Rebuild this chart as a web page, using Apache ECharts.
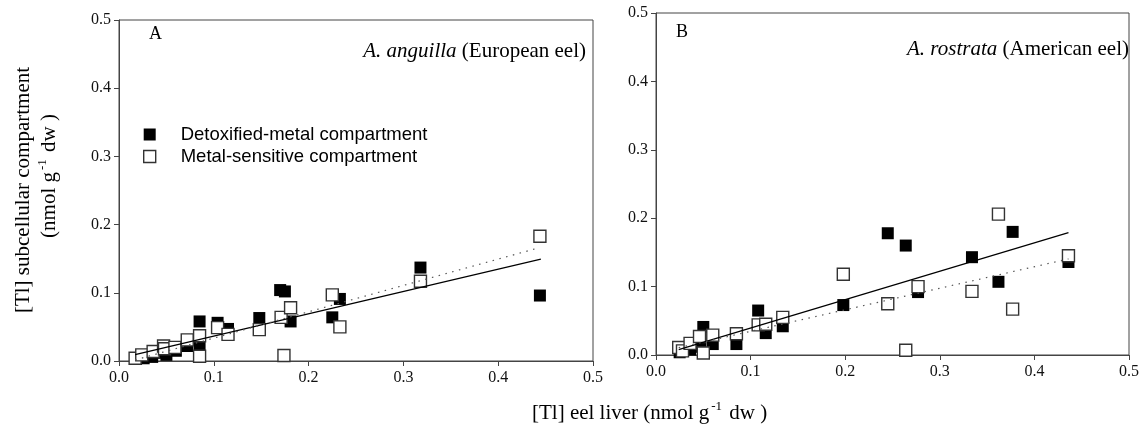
<!DOCTYPE html>
<html>
<head>
<meta charset="utf-8">
<script src="https://cdn.jsdelivr.net/npm/echarts@6/dist/echarts.min.js"></script>
<style>
  html, body { margin: 0; padding: 0; background: #fff; }
  #chart { width: 1142px; height: 425px; }
</style>
</head>
<body>
<div id="chart"></div>
<script>
// Compartment names (legend entries)
const seriesNames = ['Detoxified-metal compartment', 'Metal-sensitive compartment'];

// Shared axis ticks (both axes, both panels)
const tickValues = [0.0, 0.1, 0.2, 0.3, 0.4, 0.5];
const tickLabels = ['0.0', '0.1', '0.2', '0.3', '0.4', '0.5'];

// Panel A – A. anguilla: [liver Tl, compartment Tl]
const detoxA = [[0.018,0.003],[0.026,0.004],[0.035,0.006],[0.047,0.012],[0.050,0.009],[0.060,0.015],[0.072,0.022],[0.085,0.022],[0.085,0.058],[0.104,0.056],[0.115,0.047],[0.148,0.063],[0.170,0.104],[0.175,0.102],[0.181,0.058],[0.225,0.064],[0.233,0.091],[0.318,0.137],[0.444,0.096]];
const sensA  = [[0.017,0.004],[0.024,0.009],[0.036,0.014],[0.047,0.022],[0.048,0.018],[0.059,0.020],[0.072,0.031],[0.085,0.037],[0.085,0.007],[0.104,0.049],[0.115,0.039],[0.148,0.046],[0.171,0.064],[0.174,0.008],[0.181,0.078],[0.225,0.097],[0.233,0.050],[0.318,0.117],[0.444,0.183]];

// Panel B – A. rostrata
const detoxB = [[0.025,0.004],[0.028,0.008],[0.036,0.008],[0.047,0.012],[0.050,0.041],[0.060,0.016],[0.085,0.016],[0.108,0.065],[0.116,0.032],[0.134,0.042],[0.198,0.073],[0.245,0.178],[0.264,0.160],[0.277,0.092],[0.334,0.143],[0.362,0.107],[0.377,0.180],[0.436,0.136]];
const sensB  = [[0.024,0.011],[0.028,0.006],[0.036,0.017],[0.046,0.027],[0.050,0.003],[0.060,0.029],[0.085,0.031],[0.108,0.044],[0.116,0.045],[0.134,0.055],[0.198,0.118],[0.245,0.075],[0.264,0.007],[0.277,0.100],[0.334,0.093],[0.362,0.206],[0.377,0.067],[0.436,0.145]];

// Linear regressions: [intercept, slope] and fitted x-range
const fitDetoxA = [0.0038, 0.327];  const rangeDetoxA = [0.017, 0.445];
const fitSensA  = [-0.005, 0.386];  const rangeSensA  = [0.017, 0.440];
const fitDetoxB = [-0.002, 0.415];  const rangeDetoxB = [0.024, 0.436];
const fitSensB  = [0.0031, 0.315];  const rangeSensB  = [0.024, 0.436];

const serif = '"Liberation Serif", "Times New Roman", serif';
const sans = '"Liberation Sans", Arial, sans-serif';
const axisColor = '#444';

function fitLine(fit, range) {
  return range.map(x => [x, fit[0] + fit[1] * x]);
}

function makeAxis(gridIndex, isX) {
  return {
    type: 'value', gridIndex: gridIndex,
    min: 0, max: 0.5, interval: 0.1,
    axisLine: { show: true, onZero: false, lineStyle: { color: axisColor, width: 1 } },
    axisTick: { show: true, inside: false, length: 5, lineStyle: { color: axisColor } },
    splitLine: { show: false },
    axisLabel: {
      margin: isX ? 9 : 8,
      fontFamily: serif, fontSize: 16, color: '#111',
      formatter: v => tickLabels[tickValues.findIndex(t => Math.abs(t - v) < 1e-9)] ?? ''
    }
  };
}

const openStyle = { color: '#fff', borderColor: '#333', borderWidth: 1.4, opacity: 1 };
const filledStyle = { color: '#000', borderColor: '#000', borderWidth: 0, opacity: 1 };
const solidLine = { color: '#000', width: 1.2, type: 'solid' };
const dottedLine = { color: '#555', width: 1.2, type: [1.5, 5.5] };

function scatter(name, data, gi, style) {
  return {
    name: name, type: 'scatter', xAxisIndex: gi, yAxisIndex: gi,
    data: data, symbol: 'rect', symbolSize: 12, itemStyle: style, z: 2,
    emphasis: { disabled: true }
  };
}
function regression(data, gi, style) {
  return {
    type: 'line', xAxisIndex: gi, yAxisIndex: gi, data: data,
    showSymbol: false, symbol: 'none', lineStyle: style, z: 4,
    silent: true, emphasis: { disabled: true }
  };
}

const chart = echarts.init(document.getElementById('chart'), null, { renderer: 'canvas' });

chart.setOption({
  animation: false,
  backgroundColor: '#fff',
  grid: [
    { left: 119, top: 20, right: 549, bottom: 64, show: true, borderColor: axisColor, borderWidth: 1, backgroundColor: 'transparent' },
    { left: 656, top: 13, right: 12, bottom: 70, show: true, borderColor: axisColor, borderWidth: 1, backgroundColor: 'transparent' }
  ],
  xAxis: [makeAxis(0, true), makeAxis(1, true)],
  yAxis: [makeAxis(0, false), makeAxis(1, false)],
  legend: {
    orient: 'vertical', left: 138, top: 120, itemGap: 3,
    itemWidth: 12, itemHeight: 12,
    textStyle: { fontFamily: sans, fontSize: 18.5, color: '#000', padding: [0, 0, 0, 20] },
    data: [
      { name: seriesNames[0], icon: 'rect', itemStyle: filledStyle },
      { name: seriesNames[1], icon: 'rect', itemStyle: openStyle }
    ],
    selectedMode: false
  },
  series: [
    scatter(seriesNames[0], detoxA, 0, filledStyle),
    scatter(seriesNames[1], sensA, 0, openStyle),
    regression(fitLine(fitDetoxA, rangeDetoxA), 0, solidLine),
    regression(fitLine(fitSensA, rangeSensA), 0, dottedLine),
    scatter(seriesNames[0], detoxB, 1, filledStyle),
    scatter(seriesNames[1], sensB, 1, openStyle),
    regression(fitLine(fitDetoxB, rangeDetoxB), 1, solidLine),
    regression(fitLine(fitSensB, rangeSensB), 1, dottedLine)
  ],
  graphic: [
    // panel letters
    { type: 'text', left: 149, top: 25, style: { text: 'A', font: '18px ' + serif, fill: '#000' } },
    { type: 'text', left: 676, top: 23, style: { text: 'B', font: '18px ' + serif, fill: '#000' } },
    // species captions
    { type: 'text', right: 1142 - 586, top: 41, style: {
        text: '{i|A. anguilla} (European eel)', font: '21px ' + serif, fill: '#000',
        rich: { i: { fontStyle: 'italic', fontFamily: serif, fontSize: 21 } } } },
    { type: 'text', right: 1142 - 1129, top: 39, style: {
        text: '{i|A. rostrata} (American eel)', font: '21px ' + serif, fill: '#000',
        rich: { i: { fontStyle: 'italic', fontFamily: serif, fontSize: 21 } } } },
    // y-axis title (two lines, rotated)
    { type: 'text', x: 23, y: 190, rotation: Math.PI / 2, style: {
        text: '[Tl] subcellular compartment', font: '21px ' + serif, fill: '#000',
        align: 'center', verticalAlign: 'middle' } },
    { type: 'text', x: 48, y: 176, rotation: Math.PI / 2, style: {
        text: '{n|(nmol g}{s|-1}{n| dw )}', fill: '#000', align: 'center', verticalAlign: 'middle',
        rich: {
          n: { fontFamily: serif, fontSize: 21, lineHeight: 24, verticalAlign: 'bottom' },
          s: { fontFamily: serif, fontSize: 13, lineHeight: 24, verticalAlign: 'top', padding: [0, 2, 0, 2] }
        } } },
    // x-axis title
    { type: 'text', left: 532, top: 400, style: {
        text: '{n|[Tl] eel liver (nmol g}{s|-1}{n| dw )}', fill: '#000',
        rich: {
          n: { fontFamily: serif, fontSize: 21, lineHeight: 24, verticalAlign: 'bottom' },
          s: { fontFamily: serif, fontSize: 13, lineHeight: 24, verticalAlign: 'top', padding: [0, 2, 0, 2] }
        } } }
  ]
});
</script>
</body>
</html>
